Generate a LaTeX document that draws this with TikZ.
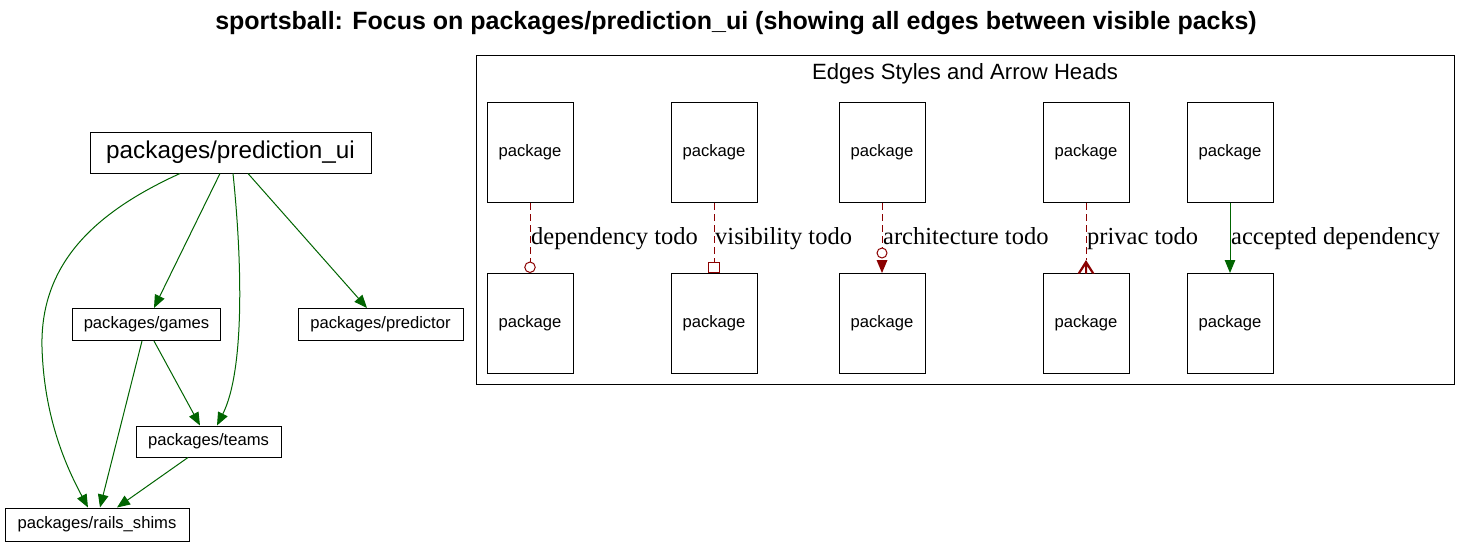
\documentclass[tikz,border=0pt]{standalone}
\usepackage{fontspec}
\setmainfont{Liberation Sans}
\newfontfamily\labelserif{Liberation Serif}
\usetikzlibrary{arrows.meta,calc}
\definecolor{edgegreen}{RGB}{0,100,0}
\definecolor{todored}{RGB}{139,0,0}
\tikzset{
  pkg/.style={draw=black, line width=1pt, inner sep=0pt, fill=white,
              font=\fontsize{16.6}{20}\selectfont},
  bigpkg/.style={pkg, font=\fontsize{24.3}{28}\selectfont},
  dep/.style={draw=edgegreen, line width=1pt, -{Triangle[length=13pt,width=10.5pt]}},
  todo/.style={draw=todored, line width=1pt, dash pattern=on 7pt off 4pt},
  lbl/.style={font=\labelserif\fontsize{24.5}{28}\selectfont, anchor=base west, inner sep=0pt},
}
\begin{document}
\begin{tikzpicture}[x=1pt,y=-1pt]
\useasboundingbox[fill=white] (0,0) rectangle (1472,546);

% title
\node[anchor=base, inner sep=0pt, font=\bfseries\fontsize{25}{29}\selectfont] (title) at (736,29.3)
  {sportsball: Focus on packages/prediction\_ui (showing all edges between visible packs)};

% main graph
\node[bigpkg, minimum width=281pt, minimum height=41pt] (pu) at (230.5,152.5) {packages/prediction\_ui};
\node[pkg, minimum width=148pt, minimum height=32pt] (games) at (146.5,324.5) {packages/games};
\node[pkg, minimum width=165pt, minimum height=32pt] (predictor) at (380.5,324.5) {packages/predictor};
\node[pkg, minimum width=145pt, minimum height=31pt] (teams) at (208.5,441.5) {packages/teams};
\node[pkg, minimum width=184pt, minimum height=33pt] (rails) at (97,524.5) {packages/rails\_shims};

\draw[dep] ($(pu.south)+(-50.5,0)$) .. controls (100,210) and (40,260) .. (42,347)
           .. controls (44,420) and (68,470) .. ($(rails.north)+(-9,0)$);
\draw[dep] ($(pu.south)+(-10.5,0)$) -- ($(games.north)+(7.5,0)$);
\draw[dep] ($(pu.south)+(2.5,0)$) .. controls (242,260) and (245,370) .. ($(teams.north)+(8.5,0)$);
\draw[dep] ($(pu.south)+(17.5,0)$) -- ($(predictor.north)+(-13.5,0)$);
\draw[dep] ($(games.south)+(-4.5,0)$) -- ($(rails.north)+(3,0)$);
\draw[dep] ($(games.south)+(7.5,0)$) -- ($(teams.north)+(-8.5,0)$);
\draw[dep] ($(teams.south)+(-20.5,0)$) -- ($(rails.north)+(20,0)$);

% legend cluster
\node[draw=black, line width=1pt, minimum width=978pt, minimum height=329pt, inner sep=0pt] (legend) at (965,219.5) {};
\node[anchor=base, inner sep=0pt, font=\fontsize{22.1}{26}\selectfont] (legendtitle) at (965,79.3) {Edges Styles and Arrow Heads};

\foreach \i/\x in {1/530,2/714,3/882,4/1086,5/1230}{
  \node[pkg, minimum width=86pt, minimum height=100pt] (t\i) at (\x,152.5) {package};
  \node[pkg, minimum width=86pt, minimum height=100pt] (b\i) at (\x,323.5) {package};
}

\draw[todo, -{Circle[open, length=11.5pt, width=11.5pt]}] (t1) -- (b1);
\draw[todo, -{Square[open, length=11.5pt, width=11.5pt]}] (t2) -- (b2);
% architecture: odot + normal
\draw[todo, shorten >=25.5pt] (t3) -- (b3);
\draw[todored, line width=1pt] ($(b3.north)+(0,-20)$) circle[radius=5pt];
\fill[todored] ($(b3.north)+(-5.5,-13)$) -- ($(b3.north)+(5.5,-13)$) -- (b3.north) -- cycle;
% privacy: crow
\draw[todo, shorten >=13pt] (t4) -- (b4);
\fill[todored] ($(b4.north)+(0,-13)$) -- ($(b4.north)+(-8.5,0.5)$) -- ($(b4.north)+(-6,0.5)$)
  -- ($(b4.north)+(-1,-7)$) -- ($(b4.north)+(-1,0.5)$) -- ($(b4.north)+(1,0.5)$)
  -- ($(b4.north)+(1,-7)$) -- ($(b4.north)+(6,0.5)$) -- ($(b4.north)+(8.5,0.5)$) -- cycle;
\draw[dep] (t5) -- (b5);

\node[lbl] (l1) at (531,244) {dependency todo};
\node[lbl] (l2) at (715,244) {visibility todo};
\node[lbl] (l3) at (883,244) {architecture todo};
\node[lbl] (l4) at (1087,244) {privac todo};
\node[lbl] (l5) at (1231,244) {accepted dependency};
\end{tikzpicture}
\end{document}
